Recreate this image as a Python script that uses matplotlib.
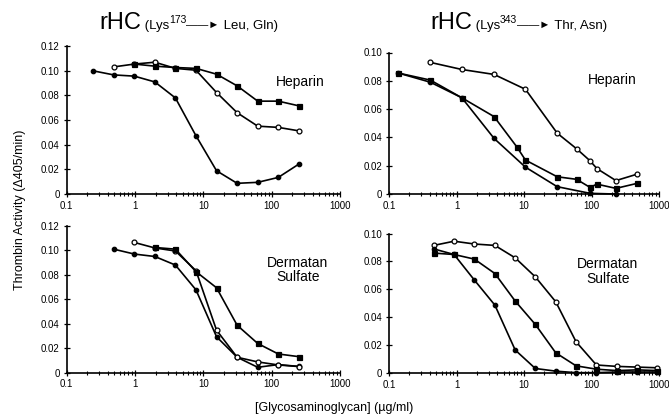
import matplotlib
matplotlib.use("Agg")
import matplotlib.pyplot as plt
from matplotlib.ticker import FixedLocator, LogLocator, FuncFormatter, NullFormatter

plt.rcParams['font.family'] = ['Liberation Sans', 'DejaVu Sans']

# top-left: Lys173 mutant, heparin
tl_x = [0.244, 0.488, 0.977, 1.95, 3.9, 7.8, 15.6, 31.25, 62.5, 125, 250]
tl_dot = [0.100, 0.0967, 0.0957, 0.091, 0.078, 0.0473, 0.0189, 0.0087, 0.0095, 0.0135, 0.0243]
tl_open = [0.1032, 0.1055, 0.107, 0.102, 0.1005, 0.0824, 0.066, 0.0551, 0.0541, 0.0513]
tl_sq = [0.1055, 0.1038, 0.1027, 0.102, 0.0973, 0.0878, 0.0754, 0.0754, 0.0716]

# bottom-left: Lys173 mutant, dermatan sulfate
bl_dot = [0.101, 0.097, 0.095, 0.088, 0.0677, 0.0293, 0.0125, 0.0043, 0.0065, 0.005]
bl_open = [0.1065, 0.102, 0.0995, 0.0834, 0.0347, 0.0125, 0.0087, 0.0062, 0.0049]
bl_sq = [0.1024, 0.101, 0.0826, 0.0694, 0.0387, 0.0238, 0.0152, 0.013]

# top-right: Lys343 mutant, heparin
tr_x_open = [0.41, 1.2, 3.6, 10.5, 31, 60, 95, 120, 230, 470]
tr_open = [0.093, 0.088, 0.0845, 0.074, 0.043, 0.032, 0.0235, 0.018, 0.0095, 0.014]
tr_x_sq = [0.137, 0.41, 1.2, 3.6, 7.8, 10.5, 31, 60, 95, 120, 230, 470]
tr_sq = [0.0855, 0.0805, 0.068, 0.0547, 0.0334, 0.024, 0.0122, 0.0104, 0.0047, 0.007, 0.004, 0.0075]
tr_x_dot = [0.137, 0.41, 1.2, 3.6, 10.5, 31, 95, 230]
tr_dot = [0.0855, 0.079, 0.068, 0.0393, 0.019, 0.0052, 0.0005, 0.0]

# bottom-right: Lys343 mutant, dermatan sulfate
br_x = [0.46, 0.92, 1.84, 3.7, 7.4, 14.7, 29.5, 59, 118, 236, 472, 944]
br_open = [0.0915, 0.0945, 0.0925, 0.0915, 0.0826, 0.069, 0.0512, 0.0226, 0.006, 0.005, 0.0045, 0.004]
br_sq = [0.086, 0.085, 0.0817, 0.0714, 0.0517, 0.035, 0.0147, 0.0054, 0.003, 0.002, 0.0025, 0.002]
br_dot = [0.089, 0.085, 0.0667, 0.0488, 0.0167, 0.0035, 0.0016, 0.0005, 0.0005, 0.001, 0.001, 0.001]


def style_axes(ax, ymax):
    ax.set_xscale('log')
    ax.set_xlim(0.1, 1000)
    ax.set_ylim(0, ymax)
    for s in ['top', 'right']:
        ax.spines[s].set_visible(False)
    for s in ['left', 'bottom']:
        ax.spines[s].set_linewidth(1.2)
    ax.xaxis.set_major_locator(FixedLocator([0.1, 1, 10, 100, 1000]))
    ax.xaxis.set_major_formatter(FuncFormatter(lambda v, p: f'{v:g}'))
    ax.xaxis.set_minor_locator(LogLocator(base=10, subs=range(2, 10)))
    ax.xaxis.set_minor_formatter(NullFormatter())
    ticks = [i * 0.02 for i in range(int(round(ymax / 0.02)) + 1)]
    ax.yaxis.set_major_locator(FixedLocator(ticks))
    ax.yaxis.set_major_formatter(FuncFormatter(lambda v, p: '0' if v == 0 else f'{v:.2f}'))
    ax.tick_params(axis='both', which='major', direction='inout', length=4, width=0.9,
                   labelsize=7, pad=3)
    ax.tick_params(axis='x', which='minor', direction='inout', length=3, width=0.8)


def draw(ax, x, y, marker, face, size):
    ax.plot(x, y, color='black', lw=1.2, marker=marker, markersize=size,
            markerfacecolor=face, markeredgecolor='black', markeredgewidth=0.9, clip_on=False)


def title_row(fig, x0, y0, pieces):
    # place text pieces one after another, left to right (pixels from top-left)
    renderer = fig.canvas.get_renderer()
    x = x0
    for txt, size, dy in pieces:
        t = fig.text(x / 669, (420 - y0 + dy) / 420, txt, fontsize=size, ha='left', va='baseline')
        bb = t.get_window_extent(renderer)
        x += bb.width


fig = plt.figure(figsize=(6.69, 4.2), dpi=100)

ax_tl = fig.add_axes([0.0997, 0.538, 0.4085, 0.352])
ax_tr = fig.add_axes([0.5815, 0.538, 0.4036, 0.337])
ax_bl = fig.add_axes([0.0997, 0.113, 0.4085, 0.349])
ax_br = fig.add_axes([0.5815, 0.111, 0.4036, 0.333])

style_axes(ax_tl, 0.12)
style_axes(ax_bl, 0.12)
style_axes(ax_tr, 0.10)
style_axes(ax_br, 0.10)

draw(ax_tl, tl_x, tl_dot, 'o', 'black', 3.2)
draw(ax_tl, tl_x[1:], tl_open, 'o', 'white', 3.5)
draw(ax_tl, tl_x[2:], tl_sq, 's', 'black', 3.6)

draw(ax_bl, tl_x[1:], bl_dot, 'o', 'black', 3.2)
draw(ax_bl, tl_x[2:], bl_open, 'o', 'white', 3.5)
draw(ax_bl, tl_x[3:], bl_sq, 's', 'black', 3.6)

draw(ax_tr, tr_x_open, tr_open, 'o', 'white', 3.5)
draw(ax_tr, tr_x_sq, tr_sq, 's', 'black', 3.6)
draw(ax_tr, tr_x_dot, tr_dot, 'o', 'black', 3.2)

draw(ax_br, br_x, br_open, 'o', 'white', 3.5)
draw(ax_br, br_x, br_sq, 's', 'black', 3.6)
draw(ax_br, br_x, br_dot, 'o', 'black', 3.2)

ax_tl.text(0.855, 0.76, 'Heparin', transform=ax_tl.transAxes, ha='center', va='center', fontsize=10)
ax_tr.text(0.826, 0.806, 'Heparin', transform=ax_tr.transAxes, ha='center', va='center', fontsize=10)
ax_bl.text(0.846, 0.70, 'Dermatan\nSulfate', transform=ax_bl.transAxes, ha='center', va='center',
           fontsize=10, linespacing=1.05)
ax_br.text(0.81, 0.727, 'Dermatan\nSulfate', transform=ax_br.transAxes, ha='center', va='center',
           fontsize=10, linespacing=1.05)

# panel titles: large "rHC", then the mutation in smaller type
title_row(fig, 99, 29, [('rHC', 17, 0), (' (Lys', 9.5, 0), ('173', 7.5, 6),
                        ('\u2014\u2014\u25ba', 8, 1), (' Leu, Gln)', 9.5, 0)])
title_row(fig, 430, 29, [('rHC', 17, 0), (' (Lys', 9.5, 0), ('343', 7.5, 6),
                         ('\u2014\u2014\u25ba', 8, 1), (' Thr, Asn)', 9.5, 0)])

fig.text(0.030, 0.50, 'Thrombin Activity (\u0394405/min)', rotation=90, ha='center', va='center', fontsize=9)
fig.text(0.50, 0.028, '[Glycosaminoglycan] (\u00b5g/ml)', ha='center', va='center', fontsize=9)

fig.savefig('out.png', dpi=100)
